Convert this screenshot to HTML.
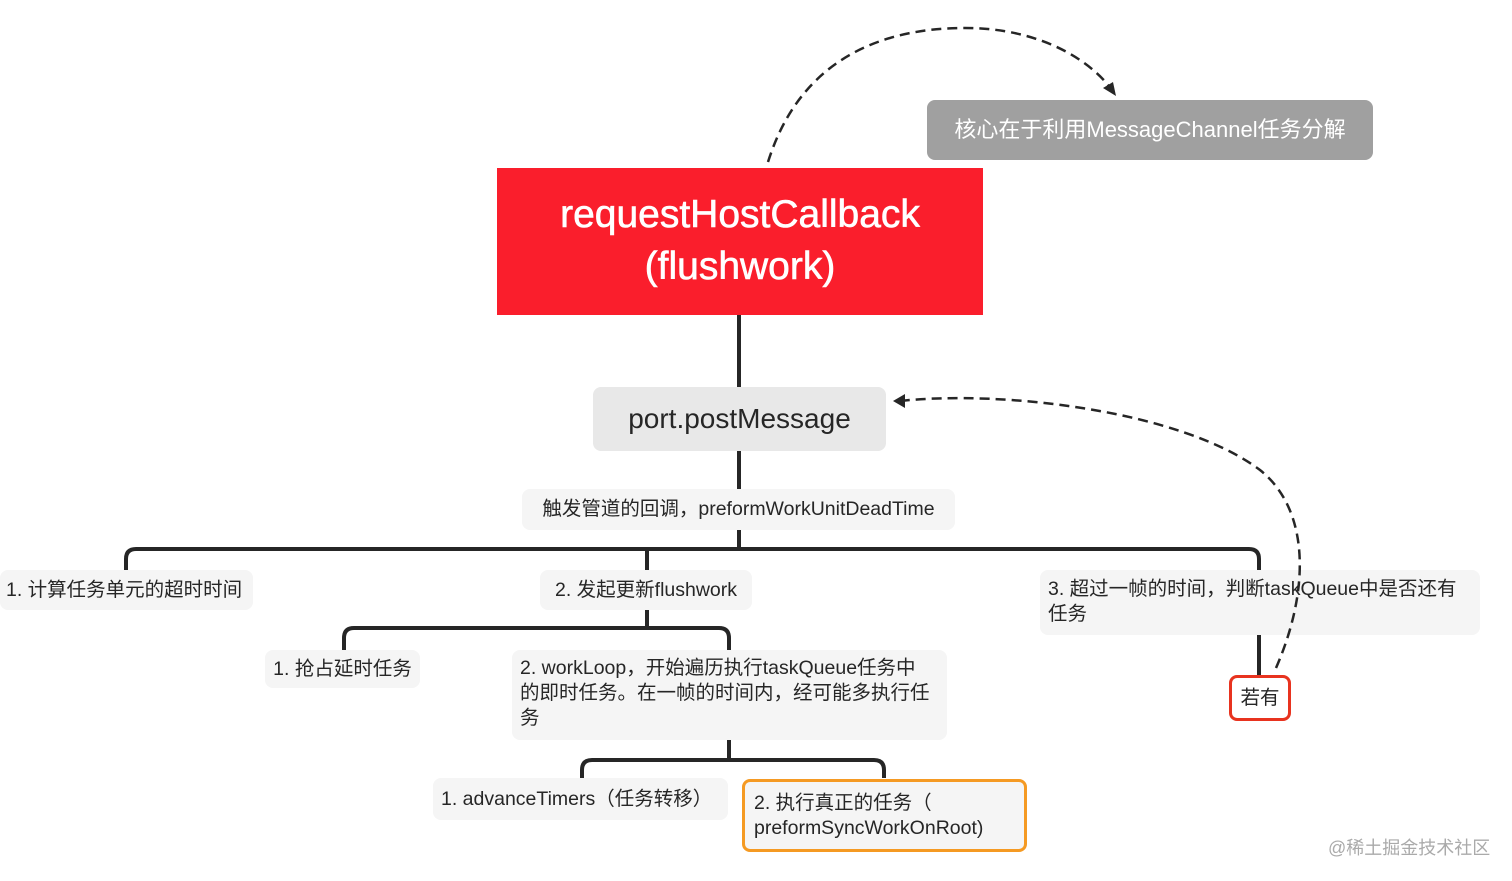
<!DOCTYPE html>
<html><head><meta charset="utf-8"><style>
body{margin:0;width:1512px;height:881px;background:#fff;position:relative;overflow:hidden;font-family:"Liberation Sans","Noto Sans CJK SC",sans-serif;color:#262626}
.n{position:absolute;box-sizing:border-box;border-radius:8px;background:#f5f5f5;font-size:19.5px;line-height:25px;white-space:nowrap}
svg{position:absolute;left:0;top:0}
</style></head><body>
<svg width="1512" height="881">
<g fill="none" stroke="#262626" stroke-width="4">
<path d="M739 315V387M739 451V489M739 530V549"/>
<path d="M126 570V559Q126 549 136 549H1249Q1259 549 1259 559V570"/>
<path d="M647 549Q647 549 647 559V570"/>
<path d="M647 610V628M344 650V638Q344 628 354 628H719Q729 628 729 638V650"/>
<path d="M729 740V760M582 778V770Q582 760 592 760H874Q884 760 884 770V778"/>
<path d="M1259 635V675"/>
</g>
</svg>
<div style="position:absolute;left:497px;top:168px;width:486px;height:147px;background:#fa1e2c;color:#fff;font-size:39px;line-height:52px;text-align:center;padding-top:21px;box-sizing:border-box;-webkit-text-stroke:0.6px #fff">requestHostCallback<br>(flushwork)</div>
<div class="n" style="left:927px;top:100px;width:446px;height:60px;background:#a0a0a0;color:#fff;font-size:22px;line-height:60px;text-align:center">核心在于利用MessageChannel任务分解</div>
<div class="n" style="left:593px;top:387px;width:293px;height:64px;background:#e8e8e8;font-size:28px;line-height:64px;text-align:center">port.postMessage</div>
<div class="n" style="left:522px;top:489px;width:433px;height:41px;line-height:41px;text-align:center">触发管道的回调，preformWorkUnitDeadTime</div>
<div class="n" style="left:0;top:570px;width:253px;height:40px;line-height:40px;padding-left:6px">1. 计算任务单元的超时时间</div>
<div class="n" style="left:540px;top:570px;width:212px;height:40px;line-height:40px;text-align:center">2. 发起更新flushwork</div>
<div class="n" style="left:1040px;top:570px;width:440px;height:65px;padding:7px 0 0 8px">3. 超过一帧的时间，判断taskQueue中是否还有<br>任务</div>
<div class="n" style="left:265px;top:650px;width:155px;height:38px;line-height:38px;text-align:center">1. 抢占延时任务</div>
<div class="n" style="left:512px;top:650px;width:435px;height:90px;padding:6px 0 0 8px">2. workLoop，开始遍历执行taskQueue任务中<br>的即时任务。在一帧的时间内，经可能多执行任<br>务</div>
<div class="n" style="left:433px;top:778px;width:295px;height:42px;line-height:42px;padding-left:8px">1. advanceTimers（任务转移）</div>
<div class="n" style="left:742px;top:779px;width:285px;height:73px;border:3px solid #f59a23;padding:9px 0 0 9px">2. 执行真正的任务（<br>preformSyncWorkOnRoot)</div>
<div class="n" style="left:1229px;top:675px;width:62px;height:46px;border:3px solid #e8331f;background:#fff;line-height:40px;text-align:center">若有</div>
<div style="position:absolute;left:1328px;top:834px;font-size:18px;color:#aaa">@稀土掘金技术社区</div>
<svg width="1512" height="881">
<g fill="none" stroke="#262626" stroke-width="2.5" stroke-dasharray="10 6">
<path d="M768 162C800 60 880 28 965 28C1040 28 1090 60 1112 90"/>
<path d="M1276 668C1310 590 1310 510 1260 470C1180 410 1000 390 900 401"/>
</g>
<path d="M1116 96L1103 88L1113 82Z" fill="#262626"/>
<path d="M893 401L905 394L905 408Z" fill="#262626"/>
</svg>
</body></html>
